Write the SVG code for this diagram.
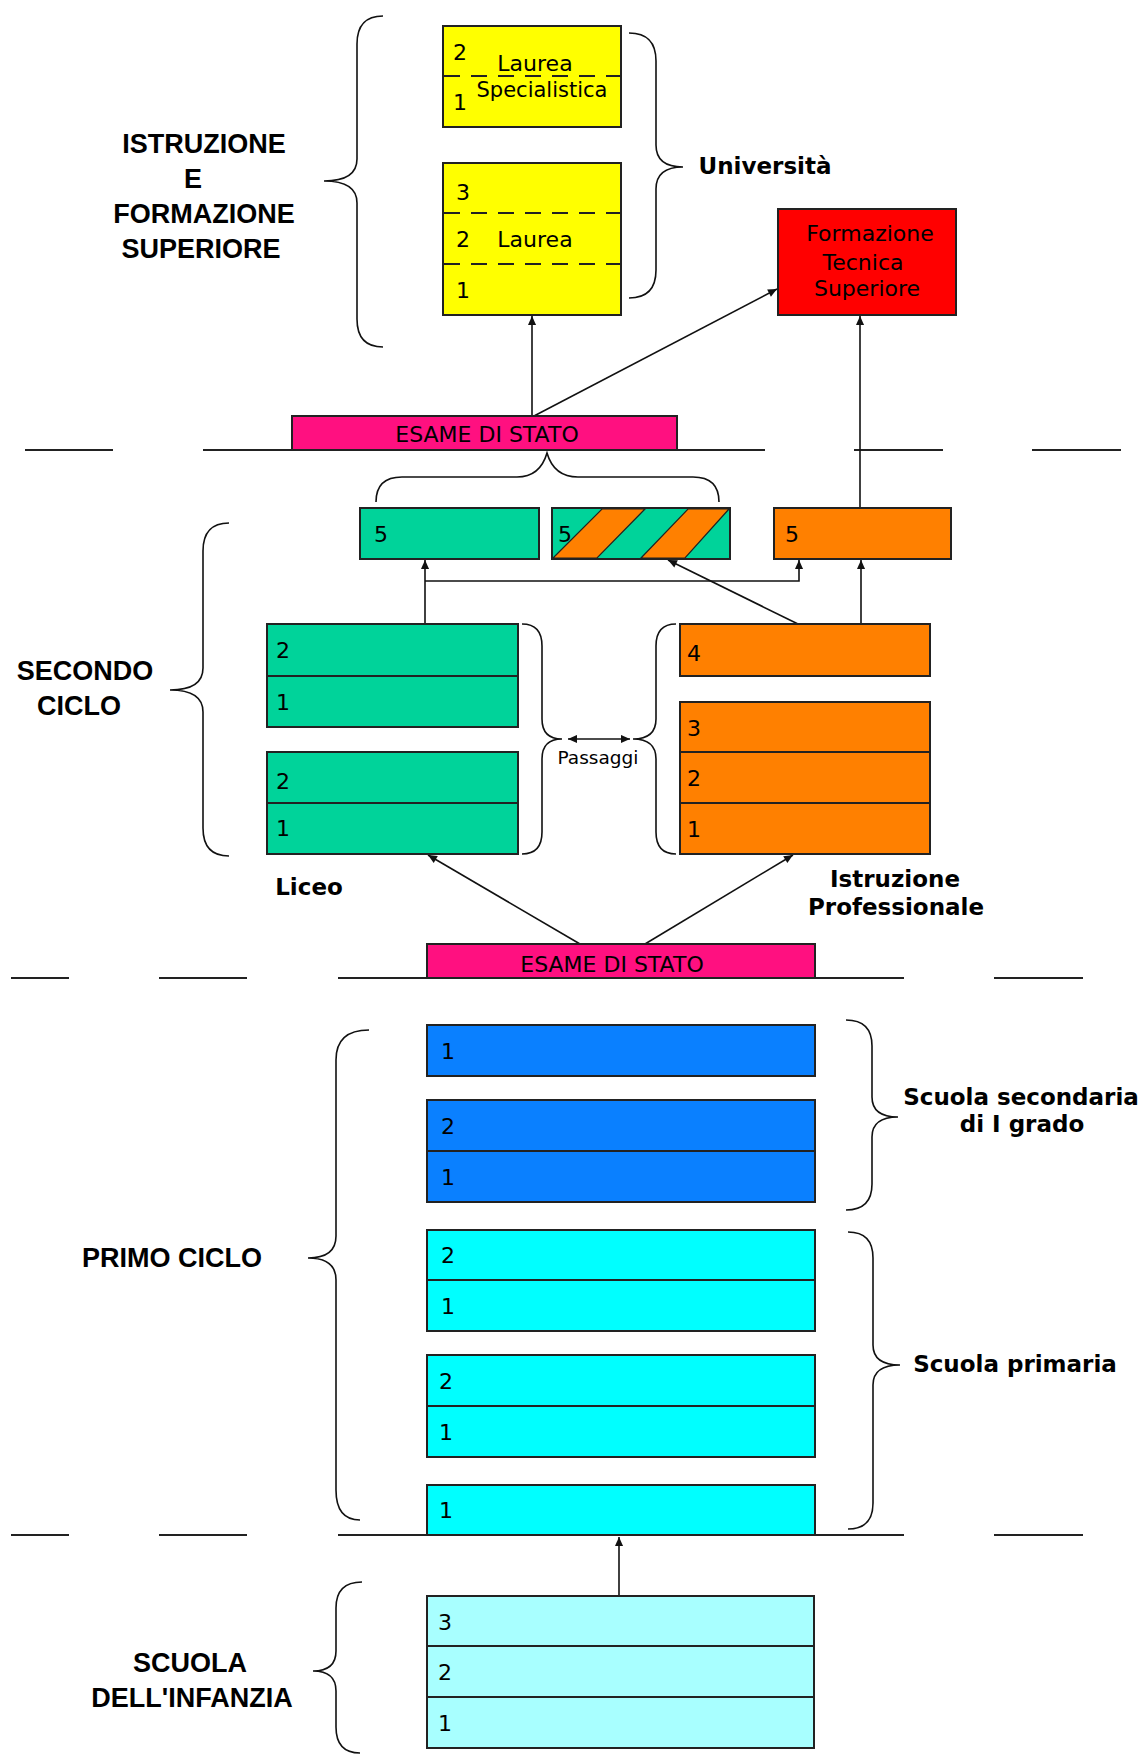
<svg xmlns="http://www.w3.org/2000/svg" width="1143" height="1755" viewBox="0 0 1143 1755">
<defs>
<marker id="ah" viewBox="0 0 10 10" refX="10" refY="5" markerWidth="10" markerHeight="9" markerUnits="userSpaceOnUse" orient="auto-start-reverse">
<path d="M0,0.5 L10,5 L0,9.5 z" fill="#111"/>
</marker>
</defs>
<style>
.box{stroke:#222;stroke-width:2}
.yel{fill:#FFFF00}
.red{fill:#FF0000}
.mag{fill:#FF1080}
.grn{fill:#00D39A}
.org{fill:#FF8000}
.blu{fill:#0A80FF}
.cya{fill:#00FFFF}
.lcy{fill:#A8FFFF}
.dash{stroke:#222;stroke-width:2;stroke-dasharray:16 11;fill:none}
.t{font-family:"DejaVu Sans",Verdana,sans-serif;font-size:22px;fill:#000}
.tc{font-family:"DejaVu Sans",Verdana,sans-serif;font-size:22px;fill:#000;text-anchor:middle}
.sec{font-family:"Liberation Sans",Arial,sans-serif;font-size:27px;font-weight:bold;fill:#000;text-anchor:middle}
.lab{font-family:"DejaVu Sans",Verdana,sans-serif;font-size:23px;font-weight:bold;fill:#000;text-anchor:middle}
.brace{fill:none;stroke:#111;stroke-width:1.6}
.sep{stroke:#222;stroke-width:2}
.con{fill:none;stroke:#111;stroke-width:1.6}
.arr{fill:none;stroke:#111;stroke-width:1.6;marker-end:url(#ah)}
</style>
<rect width="1143" height="1755" fill="#fff"/>

<g id="separators">
<line class="sep" x1="25" y1="450" x2="113" y2="450"/>
<line class="sep" x1="203" y1="450" x2="765" y2="450"/>
<line class="sep" x1="854" y1="450" x2="943" y2="450"/>
<line class="sep" x1="1032" y1="450" x2="1121" y2="450"/>
<line class="sep" x1="11" y1="978" x2="69" y2="978"/>
<line class="sep" x1="159" y1="978" x2="247" y2="978"/>
<line class="sep" x1="338" y1="978" x2="904" y2="978"/>
<line class="sep" x1="994" y1="978" x2="1083" y2="978"/>
<line class="sep" x1="11" y1="1535" x2="69" y2="1535"/>
<line class="sep" x1="159" y1="1535" x2="247" y2="1535"/>
<line class="sep" x1="338" y1="1535" x2="904" y2="1535"/>
<line class="sep" x1="994" y1="1535" x2="1083" y2="1535"/>
</g>

<g id="braces">
<path class="brace" d="M383,16 Q357,16 357,44 L357,159 Q357,181 324,181 Q357,181 357,203 L357,319 Q357,347 383,347"/>
<path class="brace" d="M629,33 Q656,33 656,61 L656,145 Q656,167 683,167 Q656,167 656,189 L656,270 Q656,298 629,298"/>
<path class="brace" d="M376,502 Q376,477 402,477 L517,477 Q540,477 547,453 Q554,477 578,477 L693,477 Q719,477 719,502"/>
<path class="brace" d="M229,523 Q203,523 203,551 L203,668 Q203,690 170,690 Q203,690 203,712 L203,828 Q203,856 229,856"/>
<path class="brace" d="M522,624 Q542,624 542,646 L542,719 Q542,739 562,739 Q542,739 542,759 L542,832 Q542,854 522,854"/>
<path class="brace" d="M676,624 Q656,624 656,646 L656,719 Q656,739 633,739 Q656,739 656,759 L656,832 Q656,854 676,854"/>
<path class="brace" d="M846,1020 Q872,1020 872,1046 L872,1097 Q872,1117 898,1117 Q872,1117 872,1137 L872,1184 Q872,1210 846,1210"/>
<path class="brace" d="M848,1232 Q873,1232 873,1258 L873,1345 Q873,1365 900,1365 Q873,1365 873,1385 L873,1503 Q873,1529 848,1529"/>
<path class="brace" d="M369,1030 Q336,1030 336,1060 L336,1236 Q336,1258 308,1258 Q336,1258 336,1280 L336,1490 Q336,1520 360,1520"/>
<path class="brace" d="M362,1582 Q336,1582 336,1608 L336,1651 Q336,1671 313,1671 Q336,1671 336,1691 L336,1727 Q336,1753 360,1753"/>
</g>

<g id="connectors">
<line class="arr" x1="532" y1="416" x2="532" y2="316"/>
<line class="arr" x1="534" y1="416" x2="777" y2="289"/>
<line class="arr" x1="860" y1="508" x2="860" y2="316"/>
<line class="arr" x1="425" y1="624" x2="425" y2="560"/>
<polyline class="arr" points="425,581 799,581 799,560"/>
<line class="arr" x1="798" y1="624" x2="668" y2="560"/>
<line class="arr" x1="861" y1="624" x2="861" y2="560"/>
<line class="con" x1="568" y1="739" x2="630" y2="739" marker-start="url(#ah)" marker-end="url(#ah)"/>
<line class="arr" x1="580" y1="944" x2="428" y2="855"/>
<line class="arr" x1="645" y1="944" x2="793" y2="855"/>
<line class="arr" x1="619" y1="1596" x2="619" y2="1537"/>
</g>

<g id="n-laurea-spec">
<rect class="box yel" x="443" y="26" width="178" height="101"/>
<line class="dash" x1="444" y1="76" x2="620" y2="76"/>
<text class="t" x="453" y="60">2</text>
<text class="t" x="453" y="110">1</text>
<text class="tc" x="535" y="71">Laurea</text>
<text class="tc" x="542" y="97" style="font-size:21px">Specialistica</text>
</g>

<g id="n-laurea">
<rect class="box yel" x="443" y="163" width="178" height="152"/>
<line class="dash" x1="444" y1="213" x2="620" y2="213"/>
<line class="dash" x1="444" y1="264" x2="620" y2="264"/>
<text class="t" x="456" y="200">3</text>
<text class="t" x="456" y="247">2</text>
<text class="t" x="456" y="298">1</text>
<text class="tc" x="535" y="247">Laurea</text>
</g>

<g id="n-fts">
<rect class="box red" x="778" y="209" width="178" height="106"/>
<text class="tc" x="870" y="241">Formazione</text>
<text class="tc" x="863" y="270">Tecnica</text>
<text class="tc" x="867" y="296">Superiore</text>
</g>

<g id="n-esame1">
<rect class="box mag" x="292" y="416" width="385" height="34"/>
<text class="tc" x="487" y="442">ESAME DI STATO</text>
</g>

<g id="n-g5">
<rect class="box grn" x="360" y="508" width="179" height="51"/>
<text class="t" x="374" y="542">5</text>
</g>

<g id="n-s5">
<rect class="box grn" x="552" y="508" width="178" height="51"/>
<polygon class="org" points="553,558 602,509 645,509 597,558" stroke="#222" stroke-width="1.2"/>
<polygon class="org" points="641,558 688,509 729,509 685,558" stroke="#222" stroke-width="1.2"/>
<rect x="552" y="508" width="178" height="51" fill="none" stroke="#222" stroke-width="2"/>
<text class="t" x="558" y="542">5</text>
</g>

<g id="n-o5">
<rect class="box org" x="774" y="508" width="177" height="51"/>
<text class="t" x="785" y="542">5</text>
</g>

<g id="n-liceo-34">
<rect class="box grn" x="267" y="624" width="251" height="52"/>
<rect class="box grn" x="267" y="676" width="251" height="51"/>
<text class="t" x="276" y="658">2</text>
<text class="t" x="276" y="710">1</text>
</g>

<g id="n-liceo-12">
<rect class="box grn" x="267" y="752" width="251" height="51"/>
<rect class="box grn" x="267" y="803" width="251" height="51"/>
<text class="t" x="276" y="789">2</text>
<text class="t" x="276" y="836">1</text>
</g>

<g id="n-prof-4">
<rect class="box org" x="680" y="624" width="250" height="52"/>
<text class="t" x="687" y="661">4</text>
</g>

<g id="n-prof-123">
<rect class="box org" x="680" y="702" width="250" height="50"/>
<rect class="box org" x="680" y="752" width="250" height="51"/>
<rect class="box org" x="680" y="803" width="250" height="51"/>
<text class="t" x="687" y="736">3</text>
<text class="t" x="687" y="786">2</text>
<text class="t" x="687" y="837">1</text>
</g>

<g id="n-esame2">
<rect class="box mag" x="427" y="944" width="388" height="34"/>
<text class="tc" x="612" y="972">ESAME DI STATO</text>
</g>

<g id="n-sec-1">
<rect class="box blu" x="427" y="1025" width="388" height="51"/>
<text class="t" x="441" y="1059">1</text>
</g>

<g id="n-sec-21">
<rect class="box blu" x="427" y="1100" width="388" height="51"/>
<rect class="box blu" x="427" y="1151" width="388" height="51"/>
<text class="t" x="441" y="1134">2</text>
<text class="t" x="441" y="1185">1</text>
</g>

<g id="n-pri-45">
<rect class="box cya" x="427" y="1230" width="388" height="50"/>
<rect class="box cya" x="427" y="1280" width="388" height="51"/>
<text class="t" x="441" y="1263">2</text>
<text class="t" x="441" y="1314">1</text>
</g>

<g id="n-pri-23">
<rect class="box cya" x="427" y="1355" width="388" height="51"/>
<rect class="box cya" x="427" y="1406" width="388" height="51"/>
<text class="t" x="439" y="1389">2</text>
<text class="t" x="439" y="1440">1</text>
</g>

<g id="n-pri-1">
<rect class="box cya" x="427" y="1485" width="388" height="50"/>
<text class="t" x="439" y="1518">1</text>
</g>

<g id="n-infanzia">
<rect class="box lcy" x="427" y="1596" width="387" height="50"/>
<rect class="box lcy" x="427" y="1646" width="387" height="51"/>
<rect class="box lcy" x="427" y="1697" width="387" height="51"/>
<text class="t" x="438" y="1630">3</text>
<text class="t" x="438" y="1680">2</text>
<text class="t" x="438" y="1731">1</text>
</g>

<g id="labels">
<text class="sec" x="204" y="153">ISTRUZIONE</text>
<text class="sec" x="193" y="188">E</text>
<text class="sec" x="204" y="223">FORMAZIONE</text>
<text class="sec" x="201" y="258">SUPERIORE</text>
<text class="lab" x="765" y="174">Università</text>
<text class="sec" x="85" y="680">SECONDO</text>
<text class="sec" x="79" y="715">CICLO</text>
<text class="lab" x="309" y="895">Liceo</text>
<text class="lab" x="895" y="887">Istruzione</text>
<text class="lab" x="896" y="915">Professionale</text>
<text x="598" y="764" style="font-family:'DejaVu Sans',Verdana,sans-serif;font-size:18.5px;text-anchor:middle">Passaggi</text>
<text class="lab" x="1021" y="1105">Scuola secondaria</text>
<text class="lab" x="1022" y="1132">di I grado</text>
<text class="lab" x="1015" y="1372">Scuola primaria</text>
<text class="sec" x="172" y="1267">PRIMO CICLO</text>
<text class="sec" x="190" y="1672">SCUOLA</text>
<text class="sec" x="192" y="1707">DELL'INFANZIA</text>
</g>
</svg>
